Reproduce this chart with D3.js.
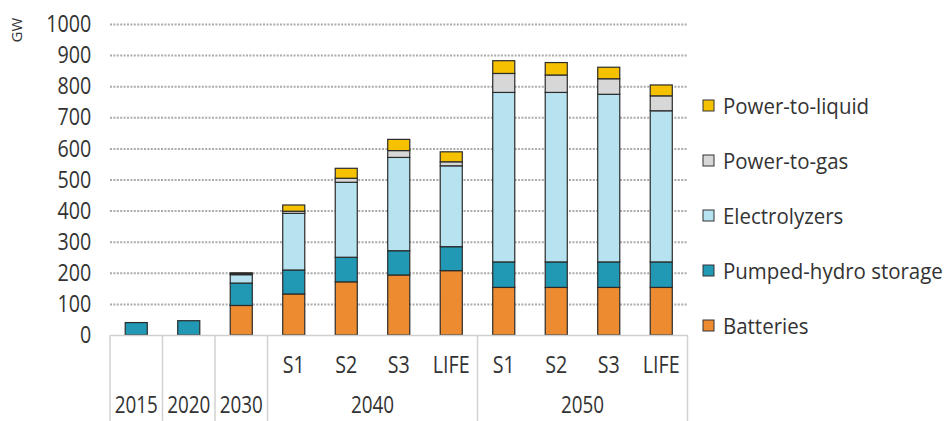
<!DOCTYPE html>
<html>
<head>
<meta charset="utf-8">
<script src="https://cdn.jsdelivr.net/npm/d3@7"></script>
<style>
  html, body { margin: 0; padding: 0; background: #fff; }
  svg { display: block; }
  text { font-family: "Open Sans", "Noto Sans", sans-serif; fill: #333; }
</style>
</head>
<body>
<svg id="chart" width="947" height="421"></svg>
<script>
// Installed capacity of storage and conversion technologies (GW)
const categories = ["2015", "2020", "2030", "2040 S1", "2040 S2", "2040 S3", "2040 LIFE",
                    "2050 S1", "2050 S2", "2050 S3", "2050 LIFE"];
const scenarioLabels = ["", "", "", "S1", "S2", "S3", "LIFE", "S1", "S2", "S3", "LIFE"];
const yearGroups = [
  { label: "2015", first: 0, last: 0 },
  { label: "2020", first: 1, last: 1 },
  { label: "2030", first: 2, last: 2 },
  { label: "2040", first: 3, last: 6 },
  { label: "2050", first: 7, last: 10 }
];
const seriesNames = ["Batteries", "Pumped-hydro storage", "Electrolyzers", "Power-to-gas", "Power-to-liquid"];
const batteries    = [0, 0, 95, 132, 171, 193, 207, 153, 153, 153, 153];
const pumpedHydro  = [40, 46, 72, 77, 79, 78, 77, 82, 82, 82, 82];
const electrolyzer = [0, 0, 27, 182, 241, 300, 260, 545, 545, 539, 486];
const powerToGas   = [0, 0, 3, 7, 13, 22, 13, 61, 56, 50, 48];
const powerToLiq   = [0, 0, 3, 20, 32, 36, 32, 41, 40, 37, 35];
const yTicks = [0, 100, 200, 300, 400, 500, 600, 700, 800, 900, 1000];

const colors = {
  "Batteries": "#ec8b2f",
  "Pumped-hydro storage": "#2198b4",
  "Electrolyzers": "#b6e3ef",
  "Power-to-gas": "#d7d7d7",
  "Power-to-liquid": "#f6c200"
};

const rows = categories.map((c, i) => ({
  cat: c,
  "Batteries": batteries[i],
  "Pumped-hydro storage": pumpedHydro[i],
  "Electrolyzers": electrolyzer[i],
  "Power-to-gas": powerToGas[i],
  "Power-to-liquid": powerToLiq[i]
}));

const svg = d3.select("#chart");
const plot = { left: 110, right: 687.5, top: 24, bottom: 335 };

const x = d3.scaleBand().domain(categories)
  .range([plot.left, plot.right]).paddingInner(0.58).paddingOuter(0.29);
const y = d3.scaleLinear().domain([0, 1000]).range([plot.bottom, plot.top]);

// dotted gridlines
const grid = svg.append("g")
  .attr("transform", `translate(${plot.left},0)`)
  .call(d3.axisLeft(y).tickValues(yTicks.filter(v => v > 0))
    .tickSize(-(plot.right - plot.left)).tickFormat(""));
grid.select(".domain").remove();
grid.selectAll(".tick line")
  .attr("stroke", "#ababab").attr("stroke-width", 2)
  .attr("stroke-dasharray", "2 1.4");

// y axis labels
const yAxis = svg.append("g")
  .attr("transform", `translate(${plot.left},0)`)
  .call(d3.axisLeft(y).tickValues(yTicks).tickSize(0).tickPadding(23)
    .tickFormat(d3.format("d")));
yAxis.select(".domain").remove();
yAxis.selectAll(".tick text")
  .attr("font-size", 24).attr("fill", "#333")
  .attr("font-family", '"Open Sans", sans-serif')
  .attr("transform", "scale(0.82,1)");

// unit label
svg.append("text")
  .attr("transform", "translate(22,30) rotate(-90)")
  .attr("text-anchor", "middle")
  .attr("font-size", 15)
  .text("GW");

// stacked bars
const stack = d3.stack().keys(seriesNames);
const layers = stack(rows);
svg.append("g").selectAll("g")
  .data(layers).join("g")
  .attr("fill", d => colors[d.key])
  .selectAll("rect")
  .data(d => d.filter(s => s[1] - s[0] > 0))
  .join("rect")
  .attr("x", d => x(d.data.cat))
  .attr("width", x.bandwidth())
  .attr("y", d => y(d[1]))
  .attr("height", d => y(d[0]) - y(d[1]))
  .attr("stroke", "#2b2b2b")
  .attr("stroke-width", 1.2);

// category axis: baseline and scenario labels
const xAxis = svg.append("g")
  .attr("transform", `translate(0,${plot.bottom})`)
  .call(d3.axisBottom(x).tickSize(0).tickPadding(0)
    .tickFormat((d, i) => scenarioLabels[i]));
xAxis.select(".domain").attr("stroke", "#cfcfcf").attr("stroke-width", 1.5);
xAxis.selectAll(".tick text")
  .attr("font-size", 24).attr("fill", "#333")
  .attr("font-family", '"Open Sans", sans-serif')
  .attr("y", 38).attr("dy", 0)
  .attr("transform", "scale(0.82,1)");

// group separators
const step = x.step();
const bounds = [plot.left].concat(yearGroups.map(g => x(categories[g.last]) - x.step() * x.paddingInner() / 2 + step));
svg.append("g").selectAll("line")
  .data(bounds).join("line")
  .attr("x1", d => d).attr("x2", d => d)
  .attr("y1", plot.bottom).attr("y2", 421)
  .attr("stroke", "#d2d2d2").attr("stroke-width", 1.5);

// year labels
svg.append("g").selectAll("text")
  .data(yearGroups).join("text")
  .attr("transform", g => {
    const a = x(categories[g.first]) + x.bandwidth() / 2;
    const b = x(categories[g.last]) + x.bandwidth() / 2;
    return `translate(${(a + b) / 2},413) scale(0.82,1)`;
  })
  .attr("text-anchor", "middle")
  .attr("font-size", 23)
  .text(g => g.label);

// legend
const legendOrder = seriesNames.slice().reverse();
const legend = svg.append("g").selectAll("g")
  .data(legendOrder).join("g")
  .attr("transform", (d, i) => `translate(703,${106 + i * 55})`);
legend.append("rect")
  .attr("x", 0).attr("y", -6).attr("width", 11).attr("height", 11)
  .attr("fill", d => colors[d]).attr("stroke", "#333").attr("stroke-width", 1);
legend.append("text")
  .attr("transform", "translate(20,8) scale(0.93,1)")
  .attr("font-size", 22)
  .text(d => d);
</script>
</body>
</html>
